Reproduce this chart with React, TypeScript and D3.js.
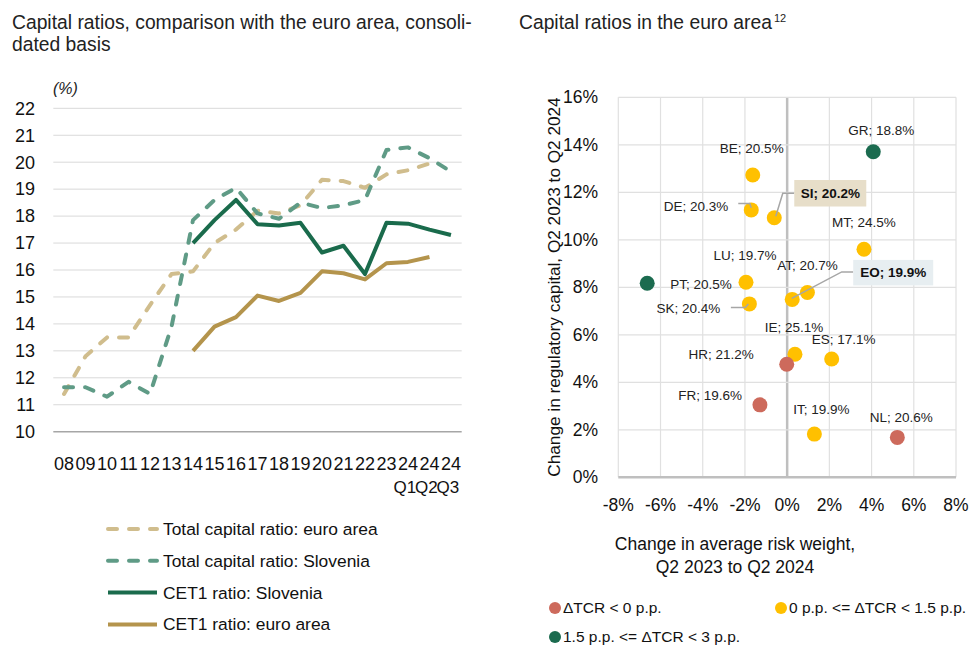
import React from "react";
import * as d3 from "d3";

// ---- left chart data ----
const periods = ["2008", "2009", "2010", "2011", "2012", "2013", "2014", "2015", "2016", "2017", "2018", "2019", "2020", "2021", "2022", "2023", "2024Q1", "2024Q2", "2024Q3"];
const yearLabels = ["08", "09", "10", "11", "12", "13", "14", "15", "16", "17", "18", "19", "20", "21", "22", "23", "24", "24", "24"];
const quarterLabels = ["", "", "", "", "", "", "", "", "", "", "", "", "", "", "", "", "Q1", "Q2", "Q3"];
const yTicksLeft = [10, 11, 12, 13, 14, 15, 16, 17, 18, 19, 20, 21, 22];

const tcrEuroArea = [11.4, 12.8, 13.5, 13.5, 14.7, 15.85, 15.95, 17.0, 17.5, 18.2, 18.1, 18.4, 19.35, 19.3, 19.05, 19.55, 19.7, 19.95, null];
const tcrSlovenia = [11.65, 11.65, 11.3, 11.85, 11.4, 13.9, 17.85, 18.6, 19.05, 18.1, 17.9, 18.5, 18.3, 18.4, 18.6, 20.45, 20.55, 20.15, 19.65];
const cet1Slovenia = [null, null, null, null, null, null, 17.0, 17.85, 18.6, 17.7, 17.65, 17.75, 16.65, 16.9, 15.85, 17.75, 17.72, 17.5, 17.3];
const cet1EuroArea = [null, null, null, null, null, null, 13.0, 13.9, 14.25, 15.05, 14.85, 15.15, 15.95, 15.88, 15.65, 16.25, 16.3, 16.48, null];

// ---- right chart data ----
const countries = ["GR", "BE", "DE", "SI", "MT", "PT", "LU", "SK", "EO", "AT", "IE", "ES", "HR", "FR", "IT", "NL"];
const riskWeightChange = [4.08, -1.63, -1.7, -0.61, 3.64, -6.63, -1.95, -1.79, 0.24, 0.96, 0.37, 2.11, -0.02, -1.29, 1.29, 5.22];
const capitalChange = [13.71, 12.73, 11.26, 10.93, 9.6, 8.17, 8.21, 7.3, 7.49, 7.78, 5.18, 4.98, 4.76, 3.05, 1.82, 1.68];
const tcrLevel = ["18.8", "20.5", "20.3", "20.2", "24.5", "20.5", "19.7", "20.4", "19.9", "20.7", "25.1", "17.1", "21.2", "19.6", "19.9", "20.6"];
const tcrGroup = [2, 1, 1, 1, 1, 2, 1, 1, 1, 1, 1, 1, 0, 0, 1, 0];
const groupLabels = ["ΔTCR < 0 p.p.", "0 p.p. <= ΔTCR < 1.5 p.p.", "1.5 p.p. <= ΔTCR < 3 p.p."];
const xTicksRight = [-8, -6, -4, -2, 0, 2, 4, 6, 8];
const yTicksRight = [0, 2, 4, 6, 8, 10, 12, 14, 16];

const FONT = "'Liberation Sans', Arial, sans-serif";
const groupColors = ["#cd6a5c", "#ffc000", "#1b6b4f"];

// label placement relative to each point (px)
const labelPos: Record<string, { dx: number; dy: number; anchor: string }> = {
  GR: { dx: 8, dy: -21, anchor: "middle" },
  BE: { dx: -1, dy: -27, anchor: "middle" },
  DE: { dx: -23, dy: -4, anchor: "end" },
  MT: { dx: 0, dy: -27, anchor: "middle" },
  PT: { dx: 23, dy: 1, anchor: "start" },
  LU: { dx: -1, dy: -27, anchor: "middle" },
  SK: { dx: -29, dy: 4.5, anchor: "end" },
  AT: { dx: 0, dy: -27.5, anchor: "middle" },
  IE: { dx: -1, dy: -27.5, anchor: "middle" },
  ES: { dx: 12, dy: -20, anchor: "middle" },
  HR: { dx: -33, dy: -9.5, anchor: "end" },
  FR: { dx: -18, dy: -10, anchor: "end" },
  IT: { dx: 7, dy: -24.5, anchor: "middle" },
  NL: { dx: 4, dy: -20, anchor: "middle" },
};
const leaders: Record<string, number[][]> = {
  DE: [[-13, -6.5], [-1.5, -6.5], [0, -2]],
  SK: [[-18.5, 3.5], [-4, 3.5], [-1, 0]],
  SI: [[1.5, -1.5], [8.5, -24.5], [20, -24.5]],
  EO: [[-0.5, -1], [49.5, -27.5], [61, -27.5]],
};
const boxes: Record<string, { x: number; y: number; w: number; h: number; fill: string }> = {
  SI: { x: 20, y: -37.7, w: 72, h: 26.5, fill: "#e7dec9" },
  EO: { x: 61, y: -39.5, w: 80, h: 25.5, fill: "#e7eef1" },
};

const App = () => {
  // left chart scales
  const x = d3.scaleBand().domain(periods).range([53.3, 461.7]);
  const y = d3.scaleLinear().domain([10, 22]).range([431.7, 108.3]);
  const cx = (p: string) => (x(p) as number) + x.bandwidth() / 2;
  const line = d3
    .line<number | null>()
    .defined((d) => d !== null)
    .x((_, i) => cx(periods[i]))
    .y((d) => y(d as number));

  // right chart scales
  const sx = d3.scaleLinear().domain([-8, 8]).range([618.3, 956]);
  const sy = d3.scaleLinear().domain([0, 16]).range([477.3, 97.3]);

  const leftSeries = [
    { values: tcrEuroArea, color: "#d0bd8d", dash: "9 12" },
    { values: tcrSlovenia, color: "#5f9b86", dash: "9 12" },
    { values: cet1EuroArea, color: "#b4944c", dash: null },
    { values: cet1Slovenia, color: "#1a6b4c", dash: null },
  ];
  const legendItems = [
    { label: "Total capital ratio: euro area", color: "#d0bd8d", dash: "9 12" },
    { label: "Total capital ratio: Slovenia", color: "#5f9b86", dash: "9 12" },
    { label: "CET1 ratio: Slovenia", color: "#1a6b4c", dash: null },
    { label: "CET1 ratio: euro area", color: "#b4944c", dash: null },
  ];

  return (
    <svg
      width={975}
      height={646}
      style={{ position: "absolute", left: 0, top: 0, background: "#fff" }}
      fontFamily={FONT}
    >
      {/* ---------- left chart ---------- */}
      <text x={12} y={29} fontSize={19.3} fill="#222">Capital ratios, comparison with the euro area, consoli-</text>
      <text x={12} y={50.5} fontSize={19.3} fill="#222">dated basis</text>
      <text x={53} y={94} fontSize={16} fontStyle="italic" fill="#222">(%)</text>

      {yTicksLeft.map((t) => (
        <g key={t}>
          <line
            x1={53.3}
            x2={461.7}
            y1={y(t)}
            y2={y(t)}
            stroke={t === 10 ? "#a6a6a6" : "#d9d9d9"}
            strokeWidth={t === 10 ? 1.5 : 1}
          />
          <text x={35} y={y(t)} dy="0.35em" textAnchor="end" fontSize={18} fill="#111">
            {t}
          </text>
        </g>
      ))}

      {periods.map((p, i) => (
        <g key={p}>
          <text x={cx(p)} y={470} textAnchor="middle" fontSize={18} fill="#111">
            {yearLabels[i]}
          </text>
          {quarterLabels[i] && (
            <text x={cx(p) - 3} y={493} textAnchor="middle" fontSize={17} fill="#111">
              {quarterLabels[i]}
            </text>
          )}
        </g>
      ))}

      {leftSeries.map((s, i) => (
        <path
          key={i}
          d={line(s.values) || ""}
          fill="none"
          stroke={s.color}
          strokeWidth={4}
          strokeDasharray={s.dash || undefined}
          strokeLinecap={s.dash ? "round" : "butt"}
          strokeLinejoin="round"
        />
      ))}

      {legendItems.map((it, i) => (
        <g key={it.label} transform={`translate(0,${529 + i * 31.8})`}>
          <line
            x1={108}
            x2={157}
            y1={0}
            y2={0}
            stroke={it.color}
            strokeWidth={4}
            strokeDasharray={it.dash || undefined}
            strokeLinecap={it.dash ? "round" : "butt"}
          />
          <text x={163} y={0} dy="0.35em" fontSize={17.4} fill="#111">
            {it.label}
          </text>
        </g>
      ))}

      {/* ---------- right chart ---------- */}
      <text x={519} y={29} fontSize={19.3} fill="#222">
        Capital ratios in the euro area
        <tspan dx={2} dy={-7} fontSize={11}>12</tspan>
      </text>

      {xTicksRight.map((t) => (
        <line
          key={"vx" + t}
          x1={sx(t)}
          x2={sx(t)}
          y1={sy(16)}
          y2={sy(0)}
          stroke={t === 0 ? "#bfbfbf" : "#e0e0e0"}
          strokeWidth={t === 0 ? 2.5 : 1.2}
        />
      ))}
      {yTicksRight.map((t) => (
        <line
          key={"hy" + t}
          x1={sx(-8)}
          x2={sx(8)}
          y1={sy(t)}
          y2={sy(t)}
          stroke={t === 0 ? "#bfbfbf" : "#e0e0e0"}
          strokeWidth={t === 0 ? 2.5 : 1.2}
        />
      ))}

      {xTicksRight.map((t) => (
        <text key={"xt" + t} x={sx(t)} y={511} textAnchor="middle" fontSize={17.5} fill="#111">
          {`${t}%`}
        </text>
      ))}
      {yTicksRight.map((t) => (
        <text key={"yt" + t} x={598} y={sy(t)} dy="0.35em" textAnchor="end" fontSize={17.5} fill="#111">
          {`${t}%`}
        </text>
      ))}

      <text
        transform={`translate(560,287) rotate(-90)`}
        textAnchor="middle"
        fontSize={17.2}
        fill="#111"
      >
        Change in regulatory capital, Q2 2023 to Q2 2024
      </text>
      <text x={735} y={550} textAnchor="middle" fontSize={17.5} fill="#111">
        Change in average risk weight,
      </text>
      <text x={735} y={573} textAnchor="middle" fontSize={17.5} fill="#111">
        Q2 2023 to Q2 2024
      </text>

      {countries.map((c, i) => (
        <circle
          key={"pt" + c}
          cx={sx(riskWeightChange[i])}
          cy={sy(capitalChange[i])}
          r={7.5}
          fill={groupColors[tcrGroup[i]]}
        />
      ))}

      {countries.map((c, i) => {
        const px = sx(riskWeightChange[i]);
        const py = sy(capitalChange[i]);
        const label = `${c}; ${tcrLevel[i]}%`;
        const lead = leaders[c];
        const box = boxes[c];
        return (
          <g key={"lb" + c}>
            {lead && (
              <polyline
                points={lead.map(([a, b]) => `${px + a},${py + b}`).join(" ")}
                fill="none"
                stroke="#a6a6a6"
                strokeWidth={1.5}
              />
            )}
            {box ? (
              <g>
                <rect x={px + box.x} y={py + box.y} width={box.w} height={box.h} fill={box.fill} />
                <text
                  x={px + box.x + box.w / 2}
                  y={py + box.y + box.h / 2}
                  dy="0.35em"
                  textAnchor="middle"
                  fontSize={13.5}
                  fontWeight="bold"
                  fill="#111"
                >
                  {label}
                </text>
              </g>
            ) : (
              <text
                x={px + labelPos[c].dx}
                y={py + labelPos[c].dy}
                dy="0.35em"
                textAnchor={labelPos[c].anchor}
                fontSize={13.5}
                fill="#222"
              >
                {label}
              </text>
            )}
          </g>
        );
      })}

      {groupLabels.map((g, i) => {
        const lx = i === 1 ? 781 : 555;
        const ly = i === 2 ? 637 : 608;
        return (
          <g key={g}>
            <circle cx={lx} cy={ly} r={6} fill={groupColors[i]} />
            <text x={lx + 8} y={ly} dy="0.35em" fontSize={15.5} fill="#111">
              {g}
            </text>
          </g>
        );
      })}
    </svg>
  );
};

export default App;
